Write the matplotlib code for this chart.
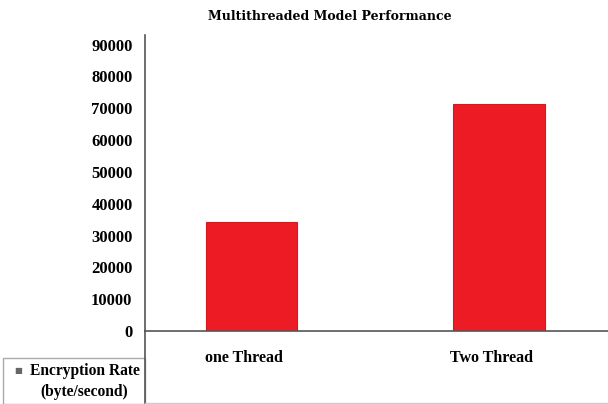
import matplotlib
matplotlib.use("Agg")
import matplotlib.pyplot as plt
from matplotlib.lines import Line2D
from matplotlib.patches import Rectangle

# data
categories = ["one Thread", "Two Thread"]
encryption_rate = [34300, 71400]
y_ticks = [0, 10000, 20000, 30000, 40000, 50000, 60000, 70000, 80000, 90000]

plt.rcParams["font.family"] = ["Liberation Serif", "DejaVu Serif"]
plt.rcParams["font.weight"] = "bold"

W, H = 608, 404
fig = plt.figure(figsize=(W / 100, H / 100), dpi=100)
ax = fig.add_axes([145 / W, (H - 331) / H, 1 - 145 / W, (331 - 35) / H])

x = list(range(len(categories)))
ax.bar(x, encryption_rate, width=0.37, color="#ed1c24", edgecolor="#d9161e", linewidth=0.8)

ax.set_xlim(-0.43, 1.44)
ax.set_ylim(0, 93000)
ax.set_yticks(y_ticks)
ax.set_yticklabels([str(v) for v in y_ticks], fontsize=12, fontweight="bold")
ax.set_xticks([xi - 0.03 for xi in x])
ax.set_xticklabels(categories, fontsize=11.5, fontweight="bold")
ax.tick_params(axis="y", length=0, pad=9)
ax.tick_params(axis="x", length=0, pad=14)

for side in ["top", "right"]:
    ax.spines[side].set_visible(False)
ax.spines["left"].set_color("#555555")
ax.spines["bottom"].set_color("#555555")
ax.spines["left"].set_linewidth(1.2)
ax.spines["bottom"].set_linewidth(1.2)

# y axis line continues down through the table area
fig.add_artist(Line2D([145 / W, 145 / W], [0, (H - 331) / H], color="#555555", lw=1.2))
fig.add_artist(Line2D([145 / W, 1], [1 / H, 1 / H], color="#cccccc", lw=1.0))

# legend cell in the bottom left
fig.add_artist(Rectangle((3 / W, 0), 142 / W, (404 - 358) / H, transform=fig.transFigure,
                         fill=False, edgecolor="#aaaaaa", lw=1.0))
fig.text(14 / W, (404 - 371) / H, "\u25a0", fontsize=6, color="#666666", va="center",
         family="DejaVu Sans")
fig.text(85 / W, (404 - 371) / H, "Encryption Rate", fontsize=11.2, fontweight="bold",
         ha="center", va="center")
fig.text(84 / W, (404 - 392) / H, "(byte/second)", fontsize=11.2, fontweight="bold",
         ha="center", va="center")

fig.text(330 / W, (404 - 17) / H, "Multithreaded Model Performance", fontsize=9,
         fontweight="bold", ha="center", va="center", family="DejaVu Serif")

fig.savefig("out.png", dpi=100)
